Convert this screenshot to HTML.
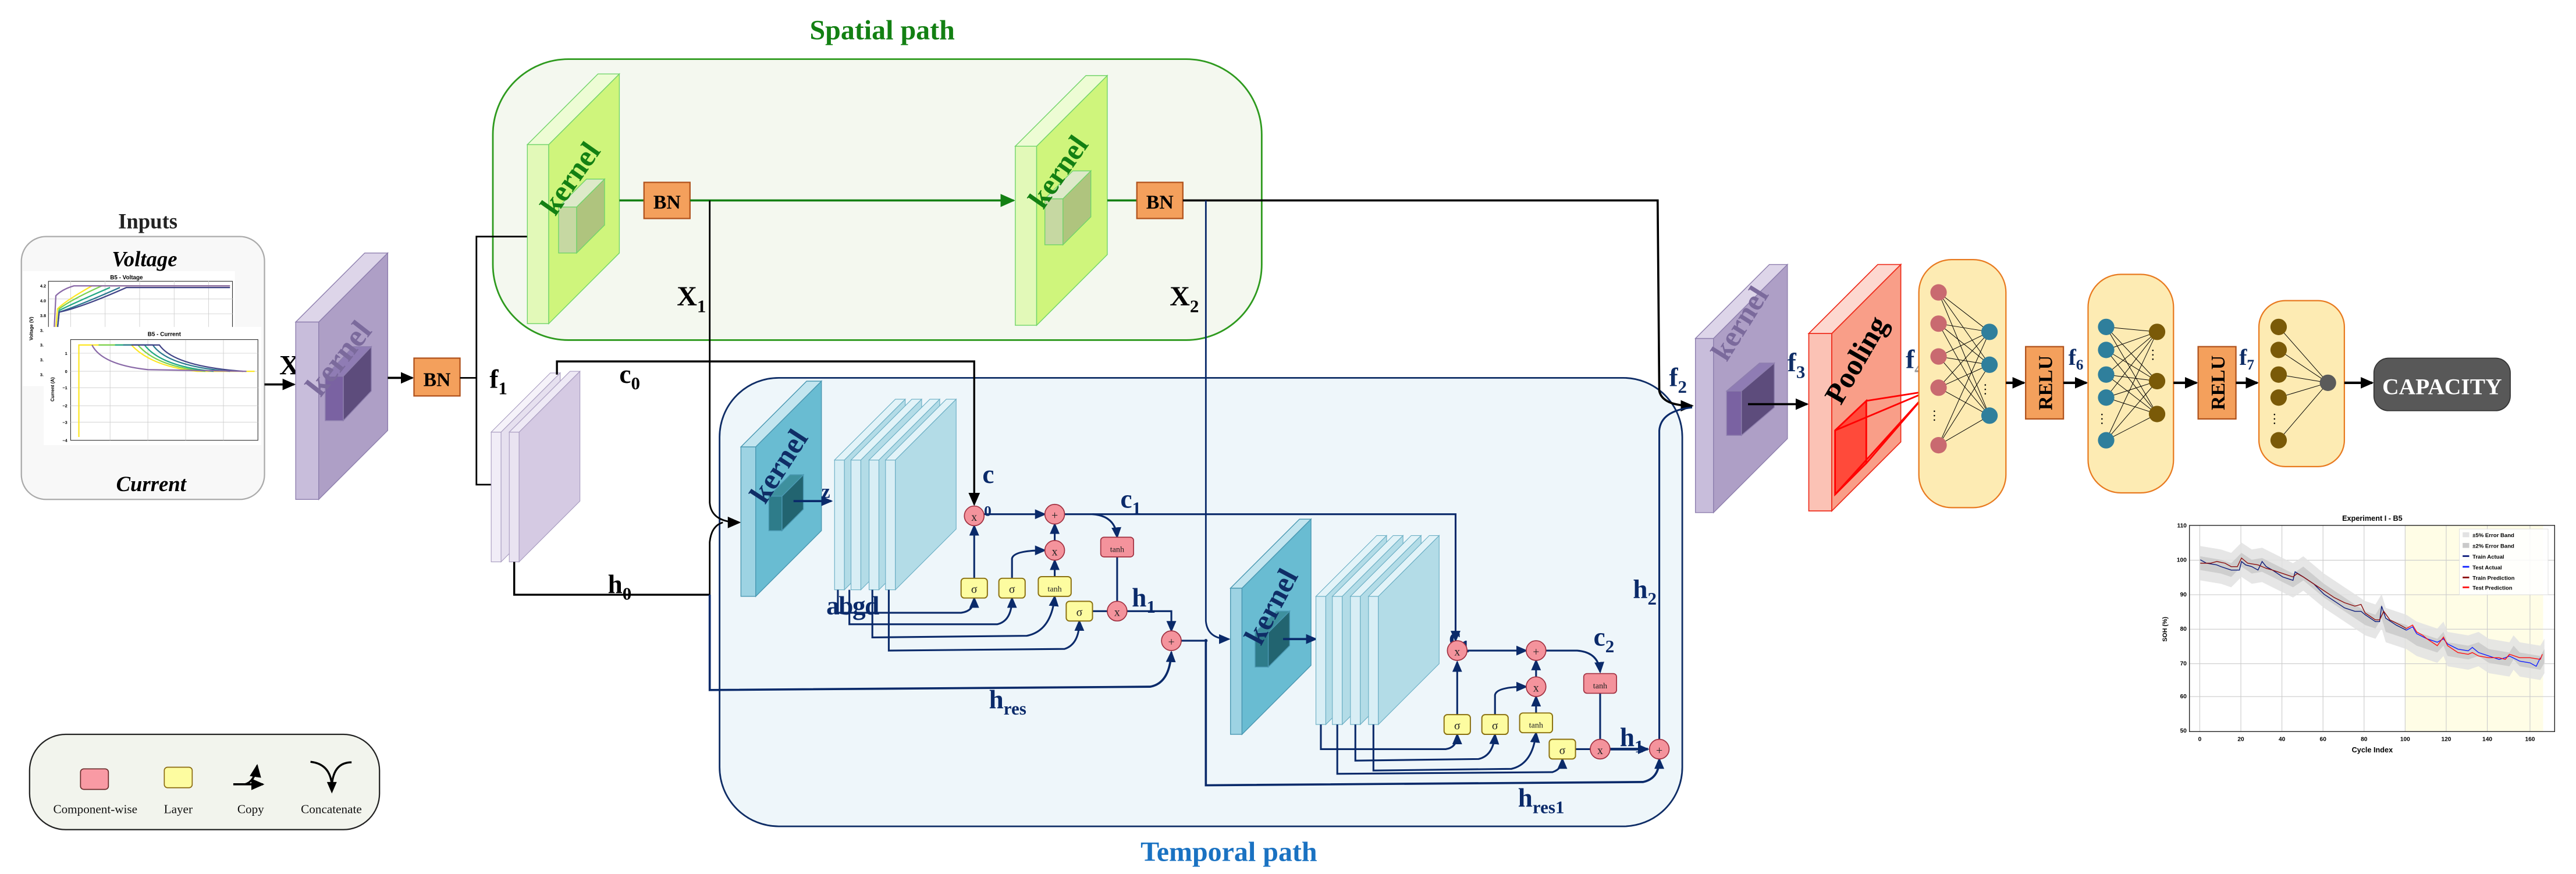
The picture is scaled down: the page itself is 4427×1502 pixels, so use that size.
<!DOCTYPE html>
<html><head><meta charset="utf-8"><style>
html,body{margin:0;padding:0;background:#fff;}
svg{display:block}
text{font-family:"Liberation Serif",serif;}
text.s,.s text{font-family:"Liberation Sans",sans-serif;}
.m{font-weight:bold;}
</style></head><body>
<svg width="4427" height="1502" viewBox="0 0 1568 532" preserveAspectRatio="none" xmlns="http://www.w3.org/2000/svg">
<defs>
<marker id="ak" markerWidth="8" markerHeight="8" refX="7" refY="4" orient="auto" markerUnits="userSpaceOnUse"><path d="M0,0.5 L8,4 L0,7.5 z" fill="#000"/></marker>
<marker id="an" markerWidth="7" markerHeight="7" refX="6" refY="3.5" orient="auto" markerUnits="userSpaceOnUse"><path d="M0,0.5 L7,3.5 L0,6.5 z" fill="#0a2a6a"/></marker>
<marker id="ag" markerWidth="9" markerHeight="9" refX="8" refY="4.5" orient="auto" markerUnits="userSpaceOnUse"><path d="M0,0.5 L9,4.5 L0,8.5 z" fill="#138013"/></marker>
</defs>

<!-- Spatial path -->
<text x="537" y="24" font-size="17" class="m" fill="#138013" text-anchor="middle">Spatial path</text>
<rect x="300" y="36" width="468" height="171" rx="46" fill="#f4f8ef" stroke="#2e9a1e" stroke-width="1"/>

<!-- Temporal box -->
<rect x="438" y="230" width="586" height="273" rx="36" fill="#eef6fa" stroke="#0f2d66" stroke-width="1"/>
<text x="748" y="524" font-size="17" class="m" fill="#1a72c2" text-anchor="middle">Temporal path</text>

<!-- Inputs -->
<text x="90" y="139" font-size="13" class="m" fill="#222" text-anchor="middle">Inputs</text>
<rect x="13" y="144" width="148" height="160" rx="15" fill="#f8f8f8" stroke="#aaa" stroke-width="0.8"/>
<text x="88" y="162" font-size="13" class="m" font-style="italic" text-anchor="middle">Voltage</text>
<text x="92" y="299" font-size="13" class="m" font-style="italic" text-anchor="middle">Current</text>
<rect x="14" y="165" width="129" height="70" fill="#fff"/>
<text x="77" y="170" font-size="3.5" class="s m" text-anchor="middle">B5 - Voltage</text>
<rect x="29.5" y="171.2" width="112" height="50" fill="none" stroke="#333" stroke-width="0.4"/>
<g stroke="#ccc" stroke-width="0.3"><line x1="43" y1="171" x2="43" y2="200"/><line x1="64" y1="171" x2="64" y2="200"/><line x1="85" y1="171" x2="85" y2="200"/><line x1="106" y1="171" x2="106" y2="200"/><line x1="127" y1="171" x2="127" y2="200"/><line x1="30" y1="182" x2="142" y2="182"/><line x1="30" y1="191" x2="142" y2="191"/></g>
<g fill="none" stroke-width="0.8">
<path d="M34,200 L35,188 Q40,183 56,174 L140,174" stroke="#fde725"/>
<path d="M35,200 L36,188 Q44,182 62,174" stroke="#7ad151"/>
<path d="M35,200 L36,189 Q46,184 67,175" stroke="#22a884"/>
<path d="M35,200 L36,190 Q48,186 73,175" stroke="#2a788e"/>
<path d="M35,200 L36,190 Q50,187 77,175 L140,175" stroke="#414487"/>
<path d="M33,200 L34,180 Q38,176 45,174 L140,174" stroke="#8a6aa8"/>
</g>
<g class="s" font-size="2.6" font-weight="bold" text-anchor="end"><text x="28" y="175">4.2</text><text x="28" y="184">4.0</text><text x="28" y="193">3.8</text><text x="28" y="202">3.6</text><text x="28" y="211">3.4</text><text x="28" y="220">3.2</text><text x="28" y="229">3.0</text></g>
<text class="s" font-size="2.8" font-weight="bold" transform="translate(20,200) rotate(-90)" text-anchor="middle">Voltage (V)</text>
<rect x="26.6" y="199" width="132.4" height="72" fill="#fff"/>
<text x="100" y="204.5" font-size="3.5" class="s m" text-anchor="middle">B5 - Current</text>
<rect x="43" y="206.7" width="114" height="61.3" fill="none" stroke="#333" stroke-width="0.4"/>
<g stroke="#ccc" stroke-width="0.3"><line x1="67" y1="207" x2="67" y2="268"/><line x1="90" y1="207" x2="90" y2="268"/><line x1="113" y1="207" x2="113" y2="268"/><line x1="136" y1="207" x2="136" y2="268"/><line x1="43" y1="215" x2="157" y2="215"/><line x1="43" y1="226" x2="157" y2="226"/><line x1="43" y1="236" x2="157" y2="236"/><line x1="43" y1="247" x2="157" y2="247"/><line x1="43" y1="257" x2="157" y2="257"/></g>
<g fill="none" stroke-width="0.8">
<path d="M48,266 L48,210 L80,210 Q92,223 120,226 L155,226" stroke="#fde725"/>
<path d="M60,210 L84,210 Q95,223 125,226" stroke="#7ad151"/>
<path d="M70,210 L88,210 Q98,223 130,226" stroke="#22a884"/>
<path d="M75,210 L93,210 Q102,223 140,226" stroke="#2a788e"/>
<path d="M80,210 L97,210 Q106,223 148,226" stroke="#414487"/>
<path d="M56,210 Q62,222 90,225 L150,226" stroke="#8a6aa8"/>
</g>
<g class="s" font-size="2.6" font-weight="bold" text-anchor="end"><text x="41" y="216">1</text><text x="41" y="227">0</text><text x="41" y="237">−1</text><text x="41" y="248">−2</text><text x="41" y="258">−3</text><text x="41" y="269">−4</text></g>
<text class="s" font-size="2.8" font-weight="bold" transform="translate(33,237) rotate(-90)" text-anchor="middle">Current (A)</text>

<!-- X arrow -->
<text x="170" y="228" font-size="17" class="m">X</text>
<line x1="161" y1="234" x2="179" y2="234" stroke="#000" stroke-width="1.3" marker-end="url(#ak)"/>

<!-- Purple kernel -->
<g stroke="#8e7fae" stroke-width="0.5">
<rect x="180" y="196" width="14" height="108" fill="#c8bddb"/>
<polygon points="194,196 236,154 236,262 194,304" fill="#ae9fc6"/>
<polygon points="180,196 222,154 236,154 194,196" fill="#ddd5e9"/>
<rect x="198" y="229" width="11" height="27" fill="#7a62a2"/>
<polygon points="209,229 226,211 226,238 209,256" fill="#5d4c7c"/>
<polygon points="198,229 215,211 226,211 209,229" fill="#8f7cb4"/>
</g>
<text transform="translate(211,222) rotate(-52)" font-size="19" class="m" fill="#7b6a9c" text-anchor="middle">kernel</text>

<line x1="236" y1="230" x2="251" y2="230" stroke="#000" stroke-width="1.3" marker-end="url(#ak)"/>
<rect x="252" y="218" width="28" height="23" fill="#f4a05c" stroke="#b0521c" stroke-width="0.8"/>
<text x="266" y="235" font-size="12" class="m" text-anchor="middle">BN</text>

<!-- f1 routing -->
<polyline points="280,230 290,230" fill="none" stroke="#000" stroke-width="1"/>
<polyline points="321,144 290,144 290,295 300,295" fill="none" stroke="#000" stroke-width="1"/>
<text x="298" y="236" font-size="16" class="m">f<tspan font-size="11" dy="4">1</tspan></text>

<!-- f1 slabs -->
<g stroke="#a89cc0" stroke-width="0.4">
<rect x="299" y="263" width="6" height="79" fill="#f1edf7"/>
<polygon points="305,263 341,227 341,306 305,342" fill="#e6e0ef"/>
<polygon points="299,263 335,227 341,227 305,263" fill="#f5f2f9"/>
<rect x="310" y="263" width="6" height="79" fill="#e9e3f1"/>
<polygon points="316,263 353,226 353,305 316,342" fill="#d5cae3"/>
<polygon points="310,263 347,226 353,226 316,263" fill="#eee9f5"/>
</g>

<!-- spatial kernel 1 -->
<g stroke="#72d46a" stroke-width="0.5">
<rect x="321" y="88" width="13" height="109" fill="#e2f9b8"/>
<polygon points="334,88 377,45 377,154 334,197" fill="#cff57c"/>
<polygon points="321,88 364,45 377,45 334,88" fill="#edfcd4"/>
<rect x="340" y="126" width="11" height="28" fill="#c6d8a2"/>
<polygon points="351,126 368,109 368,137 351,154" fill="#afc47e"/>
<polygon points="340,126 357,109 368,109 351,126" fill="#dde9c9"/>
</g>
<text transform="translate(352,112) rotate(-55)" font-size="18" class="m" fill="#138013" text-anchor="middle">kernel</text>
<line x1="377" y1="122" x2="392" y2="122" stroke="#138013" stroke-width="1.3"/>
<rect x="392" y="111" width="28" height="22" fill="#f4a05c" stroke="#b0521c" stroke-width="0.8"/>
<text x="406" y="127" font-size="12" class="m" text-anchor="middle">BN</text>
<line x1="420" y1="122" x2="617" y2="122" stroke="#138013" stroke-width="1.3" marker-end="url(#ag)"/>
<text x="412" y="186" font-size="17" class="m">X<tspan font-size="11" dy="4">1</tspan></text>

<!-- spatial kernel 2 -->
<g stroke="#72d46a" stroke-width="0.5">
<rect x="618" y="89" width="13" height="109" fill="#e2f9b8"/>
<polygon points="631,89 674,46 674,155 631,198" fill="#cff57c"/>
<polygon points="618,89 661,46 674,46 631,89" fill="#edfcd4"/>
<rect x="636" y="121" width="11" height="28" fill="#c6d8a2"/>
<polygon points="647,121 664,104 664,132 647,149" fill="#afc47e"/>
<polygon points="636,121 653,104 664,104 647,121" fill="#dde9c9"/>
</g>
<text transform="translate(649,108) rotate(-55)" font-size="18" class="m" fill="#138013" text-anchor="middle">kernel</text>
<line x1="674" y1="122" x2="692" y2="122" stroke="#138013" stroke-width="1.3"/>
<rect x="692" y="111" width="28" height="22" fill="#f4a05c" stroke="#b0521c" stroke-width="0.8"/>
<text x="706" y="127" font-size="12" class="m" text-anchor="middle">BN</text>
<text x="712" y="186" font-size="17" class="m">X<tspan font-size="11" dy="4">2</tspan></text>

<!-- BN2 to f2 -->
<path d="M720,122 L1009,122 L1010,238 Q1012,247 1030,247" fill="none" stroke="#000" stroke-width="1.3" marker-end="url(#ak)"/>
<path d="M734,122 L734,378 Q735,389 748,389" fill="none" stroke="#0a2a6a" stroke-width="1" marker-end="url(#an)"/>
<path d="M734,389 L734,478 L1000,476 Q1010,474 1010,462" fill="none" stroke="#0a2a6a" stroke-width="1.3" marker-end="url(#an)"/>

<path d="M432,122 L432,306 Q433,318 450,318" fill="none" stroke="#000" stroke-width="1" marker-end="url(#ak)"/>
<polyline points="339,228 339,220 593,220 593,307" fill="none" stroke="#000" stroke-width="1.2" marker-end="url(#ak)"/>
<text x="377" y="233" font-size="16" class="m">c<tspan font-size="11" dy="4">0</tspan></text>
<polyline points="313,342 313,362 432,362" fill="none" stroke="#000" stroke-width="1.2"/>
<text x="370" y="361" font-size="16" class="m">h<tspan font-size="11" dy="4">0</tspan></text>
<path d="M432,362 L432,330 Q433,320 440,318" fill="none" stroke="#000" stroke-width="1"/>
<path d="M432,362 L432,420 L700,418 Q712,416 713,397" fill="none" stroke="#0a2a6a" stroke-width="1.3" marker-end="url(#an)"/>
<text x="602" y="431" font-size="16" class="m" fill="#0a2a6a">h<tspan font-size="11" dy="4">res</tspan></text>

<!-- temporal kernel 1 -->
<g stroke="#4a98b2" stroke-width="0.5">
<rect x="451" y="272" width="9" height="91" fill="#9dd3e3"/>
<polygon points="460,272 500,232 500,323 460,363" fill="#69bcd2"/>
<polygon points="451,272 491,232 500,232 460,272" fill="#c2e5ef"/>
<rect x="468" y="302" width="8" height="21" fill="#2e7c8a"/>
<polygon points="476,302 489,289 489,310 476,323" fill="#226470"/>
<polygon points="468,302 481,289 489,289 476,302" fill="#3e909e"/>
</g>
<text transform="translate(479,287) rotate(-57)" font-size="18" class="m" fill="#0f2d66" text-anchor="middle">kernel</text>
<line x1="483" y1="305" x2="506" y2="305" stroke="#0a2a6a" stroke-width="1.3" marker-end="url(#an)"/>
<text x="500" y="303" font-size="12" class="m" fill="#0a2a6a">z</text>

<!-- slabs 1 -->
<g stroke="#6aaec4" stroke-width="0.4">
<rect x="508" y="280" width="6" height="79" fill="#d8eef5"/><polygon points="514,280 551,243 551,322 514,359" fill="#b3dce7"/><polygon points="508,280 545,243 551,243 514,280" fill="#e2f3f8"/>
<rect x="518" y="280" width="6" height="79" fill="#d8eef5"/><polygon points="524,280 561,243 561,322 524,359" fill="#b3dce7"/><polygon points="518,280 555,243 561,243 524,280" fill="#e2f3f8"/>
<rect x="529" y="280" width="6" height="79" fill="#d8eef5"/><polygon points="535,280 572,243 572,322 535,359" fill="#b3dce7"/><polygon points="529,280 566,243 572,243 535,280" fill="#e2f3f8"/>
<rect x="539" y="280" width="6" height="79" fill="#d8eef5"/><polygon points="545,280 582,243 582,322 545,359" fill="#b3dce7"/><polygon points="539,280 576,243 582,243 545,280" fill="#e2f3f8"/>
</g>
<text x="503" y="374" font-size="16" class="m" fill="#0a2a6a" letter-spacing="-0.5">abgd</text>

<g fill="none" stroke="#0a2a6a" stroke-width="1.1">
<path d="M510,359 L510,373 L585,373 Q593,372 593,364" marker-end="url(#an)"/>
<path d="M517,359 L517,380 L607,380 Q616,378 616,364" marker-end="url(#an)"/>
<path d="M531,359 L531,388 L625,387 Q640,384 642,363" marker-end="url(#an)"/>
<path d="M541,359 L541,396 L648,395 Q657,392 657,378" marker-end="url(#an)"/>
<line x1="593" y1="352" x2="593" y2="320" marker-end="url(#an)"/>
<path d="M616,352 L616,340 Q617,335 636,335" marker-end="url(#an)"/>
<line x1="642" y1="351" x2="642" y2="341" marker-end="url(#an)"/>
<line x1="642" y1="329" x2="642" y2="319" marker-end="url(#an)"/>
<line x1="599" y1="313" x2="636" y2="313" marker-end="url(#an)"/>
<path d="M648,313 L886,313 L886,390" marker-end="url(#an)"/>
<path d="M665,313 Q679,314 680,327" marker-end="url(#an)"/>
<line x1="680" y1="339" x2="680" y2="366"/>
<line x1="665" y1="372" x2="674" y2="372"/>
<path d="M686,372 L713,372 L713,384" marker-end="url(#an)"/>
<path d="M719,390 L735,390"/>
</g>
<text x="682" y="309" font-size="16" class="m" fill="#0a2a6a">c<tspan font-size="11" dy="4">1</tspan></text>
<text x="598" y="294" font-size="16" class="m" fill="#0a2a6a">c</text>
<text x="599" y="314" font-size="9" class="m" fill="#0a2a6a">0</text>
<text x="689" y="369" font-size="16" class="m" fill="#0a2a6a">h<tspan font-size="11" dy="4">1</tspan></text>

<g stroke="#a03040" stroke-width="0.6" fill="#f4939c">
<circle cx="593" cy="314" r="6"/><circle cx="642" cy="313" r="6"/><circle cx="642" cy="335" r="6"/><circle cx="680" cy="372" r="6"/><circle cx="713" cy="390" r="6"/>
<rect x="670" y="327" width="20" height="12" rx="2"/>
</g>
<g stroke="#8a7010" stroke-width="0.7" fill="#fdfca0">
<rect x="585" y="352" width="16" height="12" rx="2"/><rect x="608" y="352" width="16" height="12" rx="2"/><rect x="632" y="351" width="20" height="12" rx="2"/><rect x="649" y="366" width="16" height="12" rx="2"/>
</g>
<g font-size="7" text-anchor="middle" fill="#222">
<text x="593" y="317">x</text><text x="642" y="316">+</text><text x="642" y="338">x</text><text x="680" y="375">x</text><text x="713" y="393">+</text>
<text x="680" y="336" font-size="5">tanh</text>
<text x="593" y="361">σ</text><text x="616" y="361">σ</text><text x="642" y="360" font-size="5">tanh</text><text x="657" y="375">σ</text>
</g>

<!-- temporal kernel 2 -->
<g stroke="#4a98b2" stroke-width="0.5">
<rect x="749" y="358" width="7" height="89" fill="#9dd3e3"/>
<polygon points="756,358 798,316 798,405 756,447" fill="#69bcd2"/>
<polygon points="749,358 791,316 798,316 756,358" fill="#c2e5ef"/>
<rect x="764" y="385" width="8" height="21" fill="#2e7c8a"/>
<polygon points="772,385 785,372 785,393 772,406" fill="#226470"/>
<polygon points="764,385 777,372 785,372 772,385" fill="#3e909e"/>
</g>
<text transform="translate(779,372) rotate(-62)" font-size="18" class="m" fill="#0f2d66" text-anchor="middle">kernel</text>
<line x1="781" y1="389" x2="801" y2="389" stroke="#0a2a6a" stroke-width="1.3" marker-end="url(#an)"/>

<g stroke="#6aaec4" stroke-width="0.4">
<rect x="801" y="363" width="6" height="78" fill="#d8eef5"/><polygon points="807,363 844,326 844,404 807,441" fill="#b3dce7"/><polygon points="801,363 838,326 844,326 807,363" fill="#e2f3f8"/>
<rect x="811" y="363" width="6" height="78" fill="#d8eef5"/><polygon points="817,363 854,326 854,404 817,441" fill="#b3dce7"/><polygon points="811,363 848,326 854,326 817,363" fill="#e2f3f8"/>
<rect x="822" y="363" width="6" height="78" fill="#d8eef5"/><polygon points="828,363 865,326 865,404 828,441" fill="#b3dce7"/><polygon points="822,363 859,326 865,326 828,363" fill="#e2f3f8"/>
<rect x="833" y="363" width="6" height="78" fill="#d8eef5"/><polygon points="839,363 876,326 876,404 839,441" fill="#b3dce7"/><polygon points="833,363 870,326 876,326 839,363" fill="#e2f3f8"/>
</g>

<g fill="none" stroke="#0a2a6a" stroke-width="1.1">
<path d="M804,441 L804,456 L880,456 Q887,455 887,447" marker-end="url(#an)"/>
<path d="M814,441 L814,471 L945,470 Q951,468 951,462" marker-end="url(#an)"/>
<path d="M825,441 L825,463 L900,462 Q909,460 910,447" marker-end="url(#an)"/>
<path d="M836,441 L836,469 L920,468 Q933,465 935,446" marker-end="url(#an)"/>
<line x1="887" y1="435" x2="887" y2="403" marker-end="url(#an)"/>
<path d="M910,435 L910,423 Q911,418 929,418" marker-end="url(#an)"/>
<line x1="935" y1="434" x2="935" y2="424" marker-end="url(#an)"/>
<line x1="935" y1="412" x2="935" y2="402" marker-end="url(#an)"/>
<line x1="893" y1="396" x2="929" y2="396" marker-end="url(#an)"/>
<path d="M941,396 L960,396 Q973,397 974,409" marker-end="url(#an)"/>
<line x1="974" y1="422" x2="974" y2="450"/>
<line x1="959" y1="456" x2="968" y2="456"/>
<line x1="980" y1="456" x2="1003" y2="456" stroke-width="1.6" marker-end="url(#an)"/>
<path d="M1010,450 L1010,262 Q1011,250 1030,248"/>
</g>
<text x="882" y="393" font-size="16" class="m" fill="#0a2a6a">c<tspan font-size="11" dy="4">1</tspan></text>
<text x="970" y="393" font-size="16" class="m" fill="#0a2a6a">c<tspan font-size="11" dy="4">2</tspan></text>
<text x="986" y="454" font-size="16" class="m" fill="#0a2a6a">h<tspan font-size="11" dy="4">1</tspan></text>
<text x="994" y="364" font-size="16" class="m" fill="#0a2a6a">h<tspan font-size="11" dy="4">2</tspan></text>
<text x="924" y="491" font-size="16" class="m" fill="#0a2a6a">h<tspan font-size="11" dy="4">res1</tspan></text>

<g stroke="#a03040" stroke-width="0.6" fill="#f4939c">
<circle cx="887" cy="396" r="6"/><circle cx="935" cy="396" r="6"/><circle cx="935" cy="418" r="6"/><circle cx="974" cy="456" r="6"/><circle cx="1010" cy="456" r="6"/>
<rect x="964" y="410" width="20" height="12" rx="2"/>
</g>
<g stroke="#8a7010" stroke-width="0.7" fill="#fdfca0">
<rect x="879" y="435" width="16" height="12" rx="2"/><rect x="902" y="435" width="16" height="12" rx="2"/><rect x="925" y="434" width="20" height="12" rx="2"/><rect x="943" y="450" width="16" height="12" rx="2"/>
</g>
<g font-size="7" text-anchor="middle" fill="#222">
<text x="887" y="399">x</text><text x="935" y="399">+</text><text x="935" y="421">x</text><text x="974" y="459">x</text><text x="1010" y="459">+</text>
<text x="974" y="419" font-size="5">tanh</text>
<text x="887" y="444">σ</text><text x="910" y="444">σ</text><text x="935" y="443" font-size="5">tanh</text><text x="951" y="459">σ</text>
</g>

<!-- f2 kernel -->
<text x="1016" y="235" font-size="16" class="m" fill="#0f2d66">f<tspan font-size="11" dy="4">2</tspan></text>
<g stroke="#8e7fae" stroke-width="0.5">
<rect x="1032" y="206" width="11" height="106" fill="#c8bddb"/>
<polygon points="1043,206 1088,161 1088,267 1043,312" fill="#ae9fc6"/>
<polygon points="1032,206 1077,161 1088,161 1043,206" fill="#ddd5e9"/>
<rect x="1051" y="238" width="9" height="27" fill="#7a62a2"/>
<polygon points="1060,238 1080,221 1080,248 1060,265" fill="#5d4c7c"/>
<polygon points="1051,238 1071,221 1080,221 1060,238" fill="#8f7cb4"/>
</g>
<text transform="translate(1064,200) rotate(-58)" font-size="18" class="m" fill="#7b6a9c" text-anchor="middle">kernel</text>
<line x1="1064" y1="246" x2="1100" y2="246" stroke="#000" stroke-width="1.3" marker-end="url(#ak)"/>
<text x="1088" y="226" font-size="16" class="m" fill="#0f2d66">f<tspan font-size="11" dy="4">3</tspan></text>

<g stroke="#ee2a1a" stroke-width="0.6">
<rect x="1101" y="203" width="14" height="108" fill="#fbc2b5"/>
<polygon points="1115,203 1157,161 1157,269 1115,311" fill="#f99e88"/>
<polygon points="1101,203 1143,161 1157,161 1115,203" fill="#fdd8d0"/>
</g>
<polygon points="1117,262 1136,244 1136,282 1117,301" fill="#ff4a3a" stroke="#f00" stroke-width="1"/>
<g stroke="#f00" stroke-width="1"><line x1="1117" y1="262" x2="1174" y2="238"/><line x1="1136" y1="244" x2="1174" y2="238"/><line x1="1136" y1="282" x2="1174" y2="238"/><line x1="1117" y1="301" x2="1174" y2="238"/></g>
<text transform="translate(1135,222) rotate(-60)" font-size="18" class="m" fill="#000" text-anchor="middle">Pooling</text>
<text x="1160" y="224" font-size="16" class="m" fill="#0f2d66">f<tspan font-size="11" dy="4" fill="#999">4</tspan></text>

<!-- FC1 -->
<rect x="1168" y="158" width="53" height="151" rx="20" fill="#fdebb3" stroke="#e87a20" stroke-width="0.8"/>
<g stroke="#000" stroke-width="0.35">
<line x1="1180" y1="178" x2="1211" y2="202"/><line x1="1180" y1="178" x2="1211" y2="222"/><line x1="1180" y1="178" x2="1211" y2="253"/>
<line x1="1180" y1="197" x2="1211" y2="202"/><line x1="1180" y1="197" x2="1211" y2="222"/><line x1="1180" y1="197" x2="1211" y2="253"/>
<line x1="1180" y1="217" x2="1211" y2="202"/><line x1="1180" y1="217" x2="1211" y2="222"/><line x1="1180" y1="217" x2="1211" y2="253"/>
<line x1="1180" y1="236" x2="1211" y2="202"/><line x1="1180" y1="236" x2="1211" y2="222"/><line x1="1180" y1="236" x2="1211" y2="253"/>
<line x1="1180" y1="271" x2="1211" y2="202"/><line x1="1180" y1="271" x2="1211" y2="222"/><line x1="1180" y1="271" x2="1211" y2="253"/>
</g>
<g fill="#c96a70"><circle cx="1180" cy="178" r="5"/><circle cx="1180" cy="197" r="5"/><circle cx="1180" cy="217" r="5"/><circle cx="1180" cy="236" r="5"/><circle cx="1180" cy="271" r="5"/></g>
<g fill="#2f7f9c"><circle cx="1211" cy="202" r="5"/><circle cx="1211" cy="222" r="5"/><circle cx="1211" cy="253" r="5"/></g>
<text x="1180" y="256" font-size="8" text-anchor="middle" transform="rotate(90 1180 253)">…</text>
<text x="1211" y="240" font-size="8" text-anchor="middle" transform="rotate(90 1211 237)">…</text>

<line x1="1221" y1="233" x2="1232" y2="233" stroke="#000" stroke-width="1.5" marker-end="url(#ak)"/>
<rect x="1233" y="211" width="23" height="44" fill="#f4a05c" stroke="#b0521c" stroke-width="0.8"/>
<text transform="translate(1249,233) rotate(-90)" font-size="12" class="m" text-anchor="middle">RELU</text>
<text x="1259" y="222" font-size="14" class="m" fill="#0f2d66">f<tspan font-size="9" dy="3">6</tspan></text>
<line x1="1256" y1="233" x2="1270" y2="233" stroke="#000" stroke-width="1.5" marker-end="url(#ak)"/>

<!-- FC2 -->
<rect x="1271" y="167" width="52" height="133" rx="20" fill="#fdebb3" stroke="#e87a20" stroke-width="0.8"/>
<g stroke="#000" stroke-width="0.35">
<line x1="1282" y1="199" x2="1313" y2="202"/><line x1="1282" y1="199" x2="1313" y2="232"/><line x1="1282" y1="199" x2="1313" y2="252"/>
<line x1="1282" y1="213" x2="1313" y2="202"/><line x1="1282" y1="213" x2="1313" y2="232"/><line x1="1282" y1="213" x2="1313" y2="252"/>
<line x1="1282" y1="228" x2="1313" y2="202"/><line x1="1282" y1="228" x2="1313" y2="232"/><line x1="1282" y1="228" x2="1313" y2="252"/>
<line x1="1282" y1="242" x2="1313" y2="202"/><line x1="1282" y1="242" x2="1313" y2="232"/><line x1="1282" y1="242" x2="1313" y2="252"/>
<line x1="1282" y1="268" x2="1313" y2="202"/><line x1="1282" y1="268" x2="1313" y2="232"/><line x1="1282" y1="268" x2="1313" y2="252"/>
</g>
<g fill="#2f7f9c"><circle cx="1282" cy="199" r="5"/><circle cx="1282" cy="213" r="5"/><circle cx="1282" cy="228" r="5"/><circle cx="1282" cy="242" r="5"/><circle cx="1282" cy="268" r="5"/></g>
<g fill="#7a5a08"><circle cx="1313" cy="202" r="5"/><circle cx="1313" cy="232" r="5"/><circle cx="1313" cy="252" r="5"/></g>
<text x="1282" y="258" font-size="8" text-anchor="middle" transform="rotate(90 1282 255)">…</text>
<text x="1313" y="219" font-size="8" text-anchor="middle" transform="rotate(90 1313 216)">…</text>

<line x1="1323" y1="233" x2="1337" y2="233" stroke="#000" stroke-width="1.5" marker-end="url(#ak)"/>
<rect x="1338" y="211" width="23" height="44" fill="#f4a05c" stroke="#b0521c" stroke-width="0.8"/>
<text transform="translate(1354,233) rotate(-90)" font-size="12" class="m" text-anchor="middle">RELU</text>
<text x="1363" y="222" font-size="14" class="m" fill="#0f2d66">f<tspan font-size="9" dy="3">7</tspan></text>
<line x1="1361" y1="233" x2="1374" y2="233" stroke="#000" stroke-width="1.5" marker-end="url(#ak)"/>

<!-- FC3 -->
<rect x="1375" y="183" width="52" height="101" rx="16" fill="#fdebb3" stroke="#e87a20" stroke-width="0.8"/>
<g stroke="#000" stroke-width="0.35">
<line x1="1387" y1="199" x2="1417" y2="233"/><line x1="1387" y1="213" x2="1417" y2="233"/><line x1="1387" y1="228" x2="1417" y2="233"/><line x1="1387" y1="242" x2="1417" y2="233"/><line x1="1387" y1="268" x2="1417" y2="233"/>
</g>
<g fill="#7a5a08"><circle cx="1387" cy="199" r="5"/><circle cx="1387" cy="213" r="5"/><circle cx="1387" cy="228" r="5"/><circle cx="1387" cy="242" r="5"/><circle cx="1387" cy="268" r="5"/></g>
<circle cx="1417" cy="233" r="5" fill="#5a5a5a"/>
<text x="1387" y="258" font-size="8" text-anchor="middle" transform="rotate(90 1387 255)">…</text>
<line x1="1427" y1="233" x2="1444" y2="233" stroke="#000" stroke-width="1.5" marker-end="url(#ak)"/>
<rect x="1445" y="218" width="83" height="32" rx="9" fill="#585858" stroke="#333" stroke-width="0.6"/>
<text x="1486.5" y="240" font-size="14" class="m" fill="#fff" text-anchor="middle">CAPACITY</text>

<!-- Chart -->
<rect x="1464" y="320" width="84" height="125" fill="#fffde6"/>
<g stroke="#ccc" stroke-width="0.4">
<line x1="1339" y1="320" x2="1339" y2="445"/><line x1="1364" y1="320" x2="1364" y2="445"/><line x1="1389" y1="320" x2="1389" y2="445"/><line x1="1414" y1="320" x2="1414" y2="445"/><line x1="1439" y1="320" x2="1439" y2="445"/><line x1="1464" y1="320" x2="1464" y2="445"/><line x1="1489" y1="320" x2="1489" y2="445"/><line x1="1514" y1="320" x2="1514" y2="445"/><line x1="1540" y1="320" x2="1540" y2="445"/>
<line x1="1333" y1="341" x2="1555" y2="341"/><line x1="1333" y1="362" x2="1555" y2="362"/><line x1="1333" y1="383" x2="1555" y2="383"/><line x1="1333" y1="404" x2="1555" y2="404"/><line x1="1333" y1="424" x2="1555" y2="424"/>
</g>
<g transform="translate(1339.3,319.8) scale(1.2545,-2.092) translate(0,-110)">
<polygon fill="#e2e2e2" fill-opacity="0.85" points="0,104 10,103 15,102 20,105 25,103 30,103.5 35,102 45,99 50,101 60,96 70,92 80,88 85,87 88,90 90,86 100,84 105,82 115,80 118,82 120,79 130,78 135,79 140,77 150,76 152,78 155,76 165,75 167,77 167,67 165,65 155,66 152,68 150,66 140,67 135,69 130,68 120,69 118,72 115,70 105,72 100,74 90,76 88,80 85,77 80,78 70,82 60,86 50,91 45,89 35,92 30,93.5 25,93 20,95 15,92 10,93 0,94"/>
<polygon fill="#c9c9c9" fill-opacity="0.85" points="0,101 10,100 15,99 20,102 25,100 30,100.5 35,99 45,96 50,98 60,93 70,89 80,85 85,84 88,87 90,83 100,81 105,79 115,77 118,79 120,76 130,75 135,76 140,74 150,73 152,75 155,73 165,72 167,74 167,70 165,68 155,69 152,71 150,69 140,70 135,72 130,71 120,72 118,75 115,73 105,75 100,77 90,79 88,83 85,80 80,81 70,85 60,89 50,94 45,92 35,95 30,96.5 25,96 20,98 15,95 10,96 0,97"/>
<polyline fill="none" stroke="#0b1a7a" stroke-width="1.4" vector-effect="non-scaling-stroke" points="0,100 3,99 8,98.5 10,98 15,97 19,97 20,99.5 22,98.5 25,98 28,97 30,99.5 32,98 35,97 40,95 45,94 46,96.5 50,95 55,93 60,90 65,88 70,86 75,85 78,85 80,84 85,82 87,82 88,86.5 90,83 95,81 100,79.5"/>
<polyline fill="none" stroke="#1020ff" stroke-width="1.4" vector-effect="non-scaling-stroke" points="100,79.5 103,80.5 105,78.5 110,77 115,76 118,77 120,75.5 125,74 130,73.5 132,74.5 135,73 140,72 145,71 148,71.5 150,72 155,70.5 160,70 163,69 165,71.5"/>
<polyline fill="none" stroke="#8b0e0e" stroke-width="1.4" vector-effect="non-scaling-stroke" points="0,99 5,99 8,99.5 12,99 15,98 18,98 20,100.5 23,99 28,98.5 30,98 32,97.5 35,97 40,96 45,95 47,96 50,95 55,93 60,91 65,89 70,87.5 75,86.5 78,87 80,84.5 85,82.5 87,82.5 89,85 92,82.5 97,81 100,80"/>
<polyline fill="none" stroke="#ff1010" stroke-width="1.4" vector-effect="non-scaling-stroke" points="100,80 103,81 105,79 108,78 110,77 115,75 118,77.5 120,75 125,73 130,72.5 132,73 135,72 140,71.5 145,71.5 148,71 150,72.5 155,71.5 160,71.5 165,71 166,72.5"/>
</g>
<rect x="1332.7" y="319.8" width="222.3" height="125.5" fill="none" stroke="#222" stroke-width="0.5"/>
<g class="s" font-size="3.6" font-weight="bold" text-anchor="end">
<text x="1331" y="321">110</text><text x="1331" y="342">100</text><text x="1331" y="363">90</text><text x="1331" y="384">80</text><text x="1331" y="405">70</text><text x="1331" y="425">60</text><text x="1331" y="446">50</text></g>
<g class="s" font-size="3.6" font-weight="bold" text-anchor="middle">
<text x="1339" y="451">0</text><text x="1364" y="451">20</text><text x="1389" y="451">40</text><text x="1414" y="451">60</text><text x="1439" y="451">80</text><text x="1464" y="451">100</text><text x="1489" y="451">120</text><text x="1514" y="451">140</text><text x="1540" y="451">160</text>
<text x="1444" y="458" font-size="4.5">Cycle Index</text>
<text x="1444" y="317" font-size="4.5">Experiment I - B5</text>
<text transform="translate(1319,383) rotate(-90)" font-size="3.8">SOH (%)</text></g>
<rect x="1497" y="322" width="54" height="40" fill="#fff" fill-opacity="0.85" stroke="#ddd" stroke-width="0.3"/>
<rect x="1499" y="324" width="4" height="3" fill="#e2e2e2"/><rect x="1499" y="330.5" width="4" height="3" fill="#c9c9c9"/>
<g stroke-width="1"><line x1="1499" y1="338.5" x2="1503" y2="338.5" stroke="#0b1a7a"/><line x1="1499" y1="345" x2="1503" y2="345" stroke="#1020ff"/><line x1="1499" y1="351.5" x2="1503" y2="351.5" stroke="#8b0e0e"/><line x1="1499" y1="357.5" x2="1503" y2="357.5" stroke="#ff1010"/></g>
<g class="s" font-size="3.4" font-weight="bold">
<text x="1505" y="327">±5% Error Band</text><text x="1505" y="333.5">±2% Error Band</text><text x="1505" y="340">Train Actual</text><text x="1505" y="346.5">Test Actual</text><text x="1505" y="353">Train Prediction</text><text x="1505" y="359">Test Prediction</text></g>

<!-- Legend -->
<rect x="18" y="447" width="213" height="58" rx="22" fill="#f2f4ed" stroke="#222" stroke-width="0.8"/>
<rect x="49" y="468" width="17" height="12.5" rx="2" fill="#f99aa4" stroke="#6a2a2a" stroke-width="0.6"/>
<rect x="100" y="467" width="17" height="12.5" rx="2" fill="#fdfca0" stroke="#8a6a10" stroke-width="0.6"/>
<g font-size="7.5" text-anchor="middle" fill="#111">
<text x="58" y="495">Component-wise</text><text x="108.5" y="495">Layer</text><text x="152.6" y="495">Copy</text><text x="201.7" y="495">Concatenate</text></g>
<path d="M142,477.4 L160,477.4" stroke="#000" stroke-width="1.3" fill="none" marker-end="url(#ak)"/>
<path d="M149,477.4 Q155,476 156.5,466" stroke="#000" stroke-width="1.2" fill="none" marker-end="url(#ak)"/>
<path d="M189,463.7 Q201,465 202,478 M214,464 Q203,464 202,478" stroke="#000" stroke-width="1.2" fill="none"/>
<path d="M199,476 L202,483 L205,476 z" fill="#000"/>
</svg>
</body></html>
